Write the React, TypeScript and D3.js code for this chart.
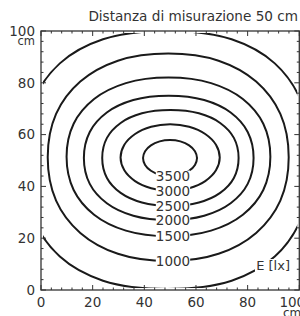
import React from "react";
import * as d3 from "d3";

// ---- data (data units: cm) ----
const levels = [500, 1000, 1500, 2000, 2500, 3000, 3500];
const labeledLevels = [1000, 1500, 2000, 2500, 3000, 3500];
const xTicks = [0, 20, 40, 60, 80, 100];
const yTicks = [0, 20, 40, 60, 80, 100];
const minorStep = 4;
const title = "Distanza di misurazione 50 cm";
const unitLabel = "E [lx]";
const axisUnit = "cm";

const c500x = [104.4, 100.85, 90.5, 73.8, 48.9, 24.0, 7.3, -3.05, -6.6, -3.05, 7.3, 24.0, 48.9, 73.8, 90.5, 100.85];
const c500y = [50.2, 72.6, 87.5, 96.8, 100.0, 96.8, 87.5, 72.6, 50.2, 27.8, 12.9, 3.6, 0.4, 3.6, 12.9, 27.8];
const c1000x = [95.9, 92.66, 83.29, 68.74, 49.25, 29.76, 15.21, 5.84, 2.6, 5.84, 15.21, 29.76, 49.25, 68.74, 83.29, 92.66];
const c1000y = [51.25, 67.98, 80.47, 88.52, 91.3, 88.52, 80.47, 67.98, 51.25, 34.52, 22.03, 13.98, 11.2, 13.98, 22.03, 34.52];
const c1500x = [88.8, 86.06, 78.14, 65.83, 49.35, 32.87, 20.56, 12.64, 9.9, 12.64, 20.56, 32.87, 49.35, 65.83, 78.14, 86.06];
const c1500y = [51.4, 64.18, 73.73, 79.87, 82.0, 79.87, 73.73, 64.18, 51.4, 38.62, 29.07, 22.93, 20.8, 22.93, 29.07, 38.62];
const c2000x = [82.3, 80.02, 73.42, 63.17, 49.45, 35.73, 25.48, 18.88, 16.6, 18.88, 25.48, 35.73, 49.45, 63.17, 73.42, 80.02];
const c2000y = [51, 61.02, 68.51, 73.33, 75, 73.33, 68.51, 61.02, 51, 40.98, 33.49, 28.67, 27, 28.67, 33.49, 40.98];
const c2500x = [76.5, 74.67, 69.36, 61.13, 50.1, 39.07, 30.84, 25.53, 23.7, 25.53, 30.84, 39.07, 50.1, 61.13, 69.36, 74.67];
const c2500y = [51, 58.73, 64.5, 68.21, 69.5, 68.21, 64.5, 58.73, 51, 43.27, 37.5, 33.79, 32.5, 33.79, 37.5, 43.27];
const c3000x = [69.2, 67.74, 63.58, 57.35, 50, 42.65, 36.42, 32.26, 30.8, 32.26, 36.42, 42.65, 50, 57.35, 63.58, 67.74];
const c3000y = [51.15, 56.07, 60.24, 63.02, 64.0, 63.02, 60.24, 56.07, 51.15, 46.23, 42.06, 39.28, 38.3, 39.28, 42.06, 46.23];
const c3500x = [60.4, 59.6, 57.34, 53.95, 49.95, 45.95, 42.56, 40.3, 39.5, 40.3, 42.56, 45.95, 49.95, 53.95, 57.34, 59.6];
const c3500y = [50.95, 53.61, 55.86, 57.37, 57.9, 57.37, 55.86, 53.61, 50.95, 48.29, 46.04, 44.53, 44.0, 44.53, 46.04, 48.29];

const labelXData = 51.1;
const unitLabelPos = [96, 7.7];

const contourXs = [c500x, c1000x, c1500x, c2000x, c2500x, c3000x, c3500x];
const contourYs = [c500y, c1000y, c1500y, c2000y, c2500y, c3000y, c3500y];

const contours = levels.map((level, i) => ({
  level,
  pts: contourXs[i].map((xv, j) => [xv, contourYs[i][j]] as [number, number]),
}));

const W = 300;
const H = 316;
const FONT = "'DejaVu Sans', sans-serif";
const TEXT = "#333";

export default function App() {
  const x = d3.scaleLinear().domain([0, 100]).range([41, 299.3]);
  const y = d3.scaleLinear().domain([0, 100]).range([290, 31]);
  const line = d3
    .line<[number, number]>()
    .x((d) => x(d[0]))
    .y((d) => y(d[1]))
    .curve(d3.curveCatmullRomClosed.alpha(0.5));

  const minor = d3.range(0, 100 + 0.001, minorStep);
  const isMajor = (v: number) => xTicks.includes(v);
  const majorLen = 5;
  const minorLen = 2.5;
  const inset = 2;
  const labelFs = 13.5;

  return (
    <svg
      width={W}
      height={H}
      style={{ position: "absolute", left: 0, top: 0, background: "#fff" }}
      fontFamily={FONT}
    >
      <defs>
        <clipPath id="plotClip">
          <rect
            x={x(0) + inset}
            y={y(100) + inset}
            width={x(100) - x(0) - 2 * inset}
            height={y(0) - y(100) - 2 * inset}
          />
        </clipPath>
      </defs>
      <rect width={W} height={H} fill="#fff" />
      <text x={298} y={21} textAnchor="end" fontSize={13.6} fill={TEXT}>
        {title}
      </text>

      <g clipPath="url(#plotClip)">
        {contours.map((c) => (
          <path key={c.level} d={line(c.pts) || ""} fill="none" stroke="#1a1a1a" strokeWidth={2} />
        ))}
      </g>

      {contours
        .filter((c) => labeledLevels.includes(c.level))
        .map((c) => {
          const ly = d3.min(c.pts, (p) => p[1]) as number;
          const txt = String(c.level);
          const w = txt.length * 0.636 * labelFs;
          return (
            <g key={"l" + c.level}>
              <rect x={x(labelXData) - w / 2} y={y(ly) - 5.5} width={w} height={11} fill="#fff" />
              <text
                x={x(labelXData)}
                y={y(ly)}
                dy="0.36em"
                textAnchor="middle"
                fontSize={labelFs}
                fill={TEXT}
              >
                {txt}
              </text>
            </g>
          );
        })}

      <rect x={x(unitLabelPos[0]) - 34} y={y(unitLabelPos[1]) - 11} width={36} height={13} fill="#fff" />
      <text x={x(unitLabelPos[0]) + 1} y={y(unitLabelPos[1])} textAnchor="end" fontSize={13} fill={TEXT}>
        {unitLabel}
      </text>

      {/* frame */}
      <rect
        x={x(0)}
        y={y(100)}
        width={x(100) - x(0)}
        height={y(0) - y(100)}
        fill="none"
        stroke="#333"
        strokeWidth={1.3}
      />
      {/* ticks */}
      {minor.map((v) => {
        const L = isMajor(v) ? majorLen : minorLen;
        return (
          <g key={"t" + v} stroke="#333" strokeWidth={1}>
            <line x1={x(v)} x2={x(v)} y1={y(0)} y2={y(0) - L} />
            <line x1={x(v)} x2={x(v)} y1={y(100)} y2={y(100) + L} />
            <line x1={x(0)} x2={x(0) + L} y1={y(v)} y2={y(v)} />
            <line x1={x(100)} x2={x(100) - L} y1={y(v)} y2={y(v)} />
          </g>
        );
      })}

      {xTicks.map((v, i) => (
        <text
          key={"xl" + v}
          x={x(v) + (i === xTicks.length - 1 ? -7 : 0)}
          y={307}
          textAnchor="middle"
          fontSize={13.5}
          fill={TEXT}
        >
          {v}
        </text>
      ))}
      <text x={283} y={317} fontSize={12} fill={TEXT}>
        {axisUnit}
      </text>

      {yTicks.map((v) => (
        <text key={"yl" + v} x={35} y={y(v)} dy="0.36em" textAnchor="end" fontSize={13.5} fill={TEXT}>
          {v}
        </text>
      ))}
      <text x={35} y={44.5} textAnchor="end" fontSize={11.5} fill={TEXT}>
        {axisUnit}
      </text>
    </svg>
  );
}
